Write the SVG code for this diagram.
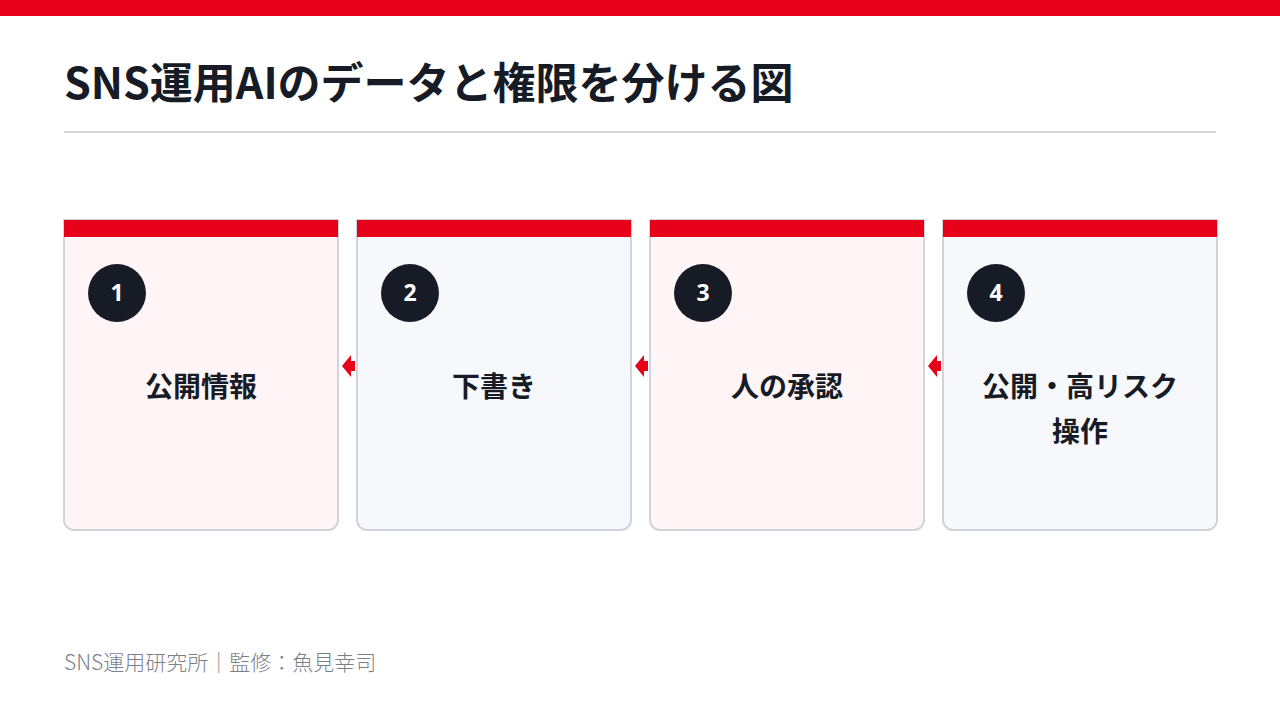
<svg xmlns="http://www.w3.org/2000/svg" width="1280" height="720" viewBox="0 0 1280 720">
<style>
.title{font-family:"Noto Sans CJK JP","Noto Sans",sans-serif;font-weight:700;font-size:43px;fill:#161b26}
.card{stroke:#d0d3dc;stroke-width:2}
.pink{fill:#fff5f6}
.blue{fill:#f7f8fc}
.bar{fill:#e60019}
.num{font-family:"Noto Sans","Noto Sans CJK JP",sans-serif;font-weight:700;font-size:23px;fill:#ffffff;text-anchor:middle}
.lbl{font-family:"Noto Sans CJK JP",sans-serif;font-weight:700;font-size:28px;fill:#161b26;text-anchor:middle}
.foot{font-family:"Noto Sans CJK JP",sans-serif;font-weight:300;font-size:21px;fill:#7a7f8a}
.arrow{fill:#e60019}
</style>
<defs>
<path id="cardshape" d="M0,0 H274 V300 A10,10 0 0 1 264,310 H10 A10,10 0 0 1 0,300 Z"/>
</defs>
<rect x="0" y="0" width="1280" height="16" fill="#e60019"/>
<text class="title" x="64" y="99">SNS運用AIのデータと権限を分ける図</text>
<rect x="64" y="131" width="1152" height="2" fill="#d0d3dc"/>

<g id="card1" transform="translate(64,220)">
<use href="#cardshape" class="card pink"/>
<rect class="bar" x="0" y="0" width="274" height="17"/>
<circle cx="53" cy="73" r="29" fill="#161b26"/>
<text class="num" x="53" y="81">1</text>
<text class="lbl" x="137" y="177">公開情報</text>
</g>
<g id="card2" transform="translate(357,220)">
<use href="#cardshape" class="card blue"/>
<rect class="bar" x="0" y="0" width="274" height="17"/>
<circle cx="53" cy="73" r="29" fill="#161b26"/>
<text class="num" x="53" y="81">2</text>
<text class="lbl" x="137" y="177">下書き</text>
</g>
<g id="card3" transform="translate(650,220)">
<use href="#cardshape" class="card pink"/>
<rect class="bar" x="0" y="0" width="274" height="17"/>
<circle cx="53" cy="73" r="29" fill="#161b26"/>
<text class="num" x="53" y="81">3</text>
<text class="lbl" x="137" y="177">人の承認</text>
</g>
<g id="card4" transform="translate(943,220)">
<use href="#cardshape" class="card blue"/>
<rect class="bar" x="0" y="0" width="274" height="17"/>
<circle cx="53" cy="73" r="29" fill="#161b26"/>
<text class="num" x="53" y="81">4</text>
<text class="lbl" x="137" y="177">公開・高リスク</text>
<text class="lbl" x="137" y="222">操作</text>
</g>

<g id="connectors">
<path class="arrow" d="M342,366 L351,355 V361 H355 V371 H351 V377 Z"/>
<path class="arrow" d="M635,366 L644,355 V361 H648 V371 H644 V377 Z"/>
<path class="arrow" d="M928,366 L937,355 V361 H941 V371 H937 V377 Z"/>
</g>

<text class="foot" x="64" y="670">SNS運用研究所｜監修：魚見幸司</text>
</svg>
